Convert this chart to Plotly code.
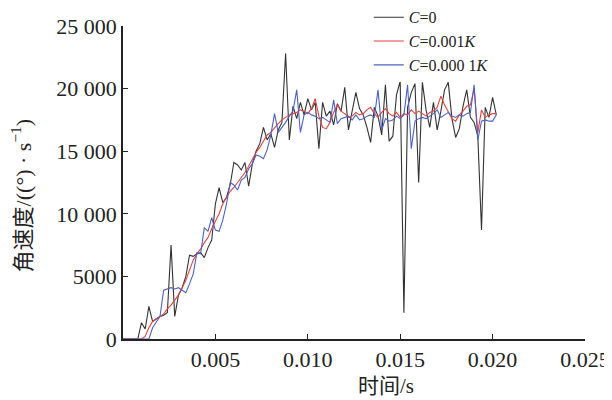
import plotly.graph_objects as go

# time grid in milliseconds (step 0.2 ms), converted to seconds
time_ms = [round(i * 0.2, 1) for i in range(102)]
time_s = [t / 1000 for t in time_ms]

c0 = [0, 0, 0, 0, 0, 1300, 800, 2600, 1400, 1600,
      1800, 1900, 2100, 7500, 1800, 3500, 4100, 5000, 6700, 6600,
      6800, 6900, 6500, 7300, 7900, 10800, 12100, 10900, 11300, 12300,
      14100, 13900, 13500, 14100, 12200, 14000, 15000, 15600, 16900, 15900,
      16400, 15300, 16700, 17300, 22800, 15900, 18600, 17600, 18900, 17900,
      19200, 18300, 18900, 15200, 18900, 17800, 18200, 17100, 18800, 18200,
      20100, 16700, 18300, 19700, 18400, 17900, 16900, 15700, 18500, 17800,
      16300, 20300, 15800, 16200, 19500, 20600, 2100, 18500, 19700, 20400,
      12500, 20500, 18300, 16900, 18900, 16700, 18200, 19900, 20500, 17600,
      16100, 16800, 18600, 19900, 17700, 17300, 16200, 8700, 18500, 17700,
      19300, 17900]

c001k = [0, 0, 0, 0, 0, 0, 200, 900, 1400, 1600,
         1750, 2000, 2400, 2700, 3100, 3500, 4100, 4700, 5500, 6300,
         6800, 7200, 7700, 8100, 8800, 9400, 10000, 10800, 11300, 11800,
         12100, 12500, 12900, 13300, 13800, 14400, 14900, 15300, 15800, 16300,
         16500, 16900, 17200, 17500, 17700, 17900, 18000, 18100, 18300, 18200,
         18000, 18400, 19200, 17800, 16900, 16800, 17300, 18100, 18700, 18200,
         18000, 17700, 17800, 18100, 17900, 18000, 18300, 18500, 18000, 17700,
         18100, 18400, 18000, 17800, 18100, 17700, 18000, 17900, 18300, 18000,
         18200, 18000, 17800, 18100, 18200, 18500, 19400, 18700, 18200, 17600,
         17400, 17900, 18200, 18600, 18700, 20000, 16500, 18300, 17700, 17900,
         18000, 18000]

c0001k = [0, 0, 0, 0, 0, 0, 0, 0, 900, 1300,
          1800, 3900, 4000, 4100, 4000, 4100, 3900, 3700, 4400, 5200,
          6900, 6800, 8900, 8600, 9700, 8700, 8600, 9500, 10800, 12500,
          12300, 11900, 12700, 12900, 13600, 14000, 14700, 14600, 14400, 15100,
          16300, 18000, 16500, 16900, 17300, 17800, 18200, 19900, 16500, 17900,
          18100, 17900, 17800, 17600, 17700, 17500, 17300, 19100, 17200, 17600,
          17700, 17800, 17500, 17900, 17500, 17600, 17800, 17900, 17700, 19900,
          16700, 17600, 17400, 17500, 17800, 17600, 17900, 20300, 15200, 17400,
          17600, 17700, 17600, 17800, 18000, 18300, 17700, 17900, 18100, 17800,
          17700, 17900, 17800, 18000, 18100, 20300, 15900, 17400, 17500, 17400,
          17400, 17900]

series_names = ["<i>C</i>=0", "<i>C</i>=0.001<i>K</i>", "<i>C</i>=0.000 1<i>K</i>"]
series_colors = ["#333333", "#e8413c", "#4c62c4"]

x_tickvals = [0.005, 0.010, 0.015, 0.020, 0.025]
x_ticktext = ["0.005", "0.010", "0.015", "0.020", "0.025"]
y_tickvals = [0, 5000, 10000, 15000, 20000, 25000]
y_ticktext = ["0", "5000", "10 000", "15 000", "20 000", "25 000"]

serif = "Liberation Serif"
serif_cjk = "Liberation Serif, Noto Sans CJK SC"

fig = go.Figure()
for vals, name, col in zip([c0, c001k, c0001k], series_names, series_colors):
    fig.add_trace(go.Scatter(x=time_s, y=vals, mode="lines", name=name,
                             line=dict(color=col, width=1.1)))

fig.update_layout(
    width=612, height=400,
    margin=dict(l=115, r=35, t=18, b=69, autoexpand=False),
    paper_bgcolor="white", plot_bgcolor="white",
    font=dict(family=serif, size=20, color="#222"),
    showlegend=True,
    legend=dict(x=0.532, y=1.082, xanchor="left", yanchor="top",
                bgcolor="rgba(255,255,255,0.9)", borderwidth=0,
                font=dict(family=serif, size=16, color="#222"),
                tracegroupgap=0, itemwidth=30),
    xaxis=dict(range=[0, 0.025], tickvals=x_tickvals, ticktext=x_ticktext,
               ticks="inside", ticklen=5, tickwidth=1.2, tickcolor="#222",
               showline=True, linecolor="#222", linewidth=1.5,
               showgrid=False, zeroline=False, mirror=False,
               tickfont=dict(family=serif, size=22)),
    yaxis=dict(range=[0, 25000], tickvals=y_tickvals, ticktext=y_ticktext,
               ticks="inside", ticklen=5, tickwidth=1.2, tickcolor="#222",
               showline=True, linecolor="#222", linewidth=1.5,
               showgrid=False, zeroline=False, mirror=False,
               tickfont=dict(family=serif, size=22)),
    annotations=[
        dict(text="时间/s", xref="paper", yref="paper", x=0.569, y=-0.150,
             xanchor="center", yanchor="middle", showarrow=False,
             font=dict(family=serif_cjk, size=21, color="#222")),
        dict(text="角速度/((°) · s<sup>−1</sup>)", xref="paper", yref="paper",
             x=-0.220, y=0.46, xanchor="center", yanchor="middle",
             textangle=-90, showarrow=False,
             font=dict(family=serif_cjk, size=22, color="#222")),
    ],
)

fig.write_html("out.html")
